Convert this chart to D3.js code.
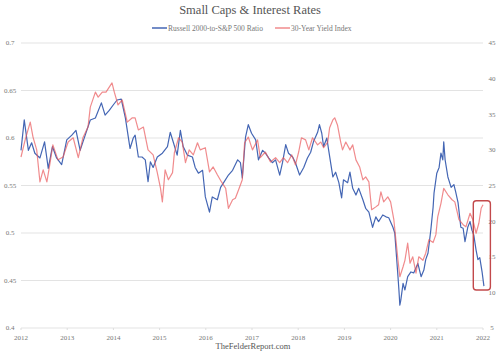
<!DOCTYPE html>
<html><head><meta charset="utf-8">
<script src="https://cdn.jsdelivr.net/npm/d3@7"></script>
<style>
html,body{margin:0;padding:0;background:#fff;}
svg{display:block;font-family:"Liberation Serif","DejaVu Serif",serif;}
</style></head>
<body><svg id="chart" width="500" height="357"></svg>
<script>
const title = "Small Caps & Interest Rates";
const seriesNames = ["Russell 2000-to-S&P 500 Ratio", "30-Year Yield Index"];
const footer = "TheFelderReport.com";
const xTicks = [2012,2013,2014,2015,2016,2017,2018,2019,2020,2021,2022];
const leftTicks = [0.4,0.45,0.5,0.55,0.6,0.65,0.7];
const rightTicks = [5,10,15,20,25,30,35,40,45];

const ratioDates = [2012.00,2012.07,2012.16,2012.23,2012.30,2012.41,2012.51,2012.59,2012.68,2012.77,2012.88,2012.99,
2013.10,2013.19,2013.28,2013.39,2013.50,2013.61,2013.74,2013.82,2013.91,2014.00,2014.08,2014.17,2014.26,2014.36,2014.43,2014.47,
2014.54,2014.62,2014.69,2014.75,2014.80,2014.86,2014.95,2015.06,2015.17,2015.23,2015.30,2015.38,2015.45,2015.51,2015.60,2015.71,
2015.77,2015.84,2015.93,2015.99,2016.08,2016.14,2016.25,2016.32,2016.40,2016.49,2016.58,2016.69,2016.75,2016.79,2016.86,2016.92,
2016.99,2017.08,2017.14,2017.23,2017.29,2017.36,2017.44,2017.51,2017.60,2017.66,2017.73,2017.79,2017.88,2017.94,2018.03,2018.12,
2018.20,2018.27,2018.33,2018.42,2018.46,2018.51,2018.55,2018.62,2018.66,2018.75,2018.81,2018.88,2018.94,2018.98,2019.07,2019.12,
2019.18,2019.25,2019.31,2019.40,2019.46,2019.53,2019.61,2019.68,2019.74,2019.83,2019.90,2019.96,2020.05,2020.09,2020.16,2020.18,
2020.20,2020.22,2020.27,2020.31,2020.37,2020.44,2020.50,2020.59,2020.66,2020.72,2020.76,2020.81,2020.87,2020.92,2020.94,2021.00,
2021.05,2021.09,2021.13,2021.15,2021.18,2021.24,2021.31,2021.37,2021.41,2021.46,2021.52,2021.57,2021.61,2021.67,2021.72,2021.76,
2021.80,2021.85,2021.89,2021.93,2021.98,2022.02];
const ratioValues = [0.587,0.619,0.587,0.595,0.584,0.579,0.596,0.568,0.591,0.579,0.572,0.598,
0.603,0.608,0.587,0.603,0.619,0.621,0.637,0.624,0.629,0.635,0.640,0.641,0.621,0.589,0.600,0.603,
0.580,0.580,0.577,0.554,0.575,0.569,0.580,0.584,0.591,0.606,0.595,0.582,0.608,0.591,0.582,0.580,
0.569,0.563,0.566,0.538,0.522,0.538,0.535,0.548,0.554,0.561,0.566,0.577,0.574,0.558,0.601,0.614,
0.605,0.598,0.577,0.587,0.584,0.579,0.574,0.577,0.561,0.574,0.593,0.584,0.580,0.574,0.561,0.569,
0.579,0.585,0.596,0.606,0.614,0.605,0.591,0.600,0.587,0.559,0.564,0.553,0.537,0.556,0.553,0.564,
0.547,0.540,0.547,0.535,0.526,0.522,0.506,0.517,0.512,0.519,0.517,0.516,0.506,0.500,0.454,0.440,
0.424,0.429,0.447,0.440,0.454,0.459,0.458,0.468,0.454,0.461,0.472,0.479,0.503,0.527,0.542,0.563,
0.569,0.584,0.577,0.596,0.577,0.559,0.548,0.551,0.543,0.532,0.506,0.505,0.491,0.506,0.512,0.503,
0.498,0.482,0.472,0.474,0.459,0.444];

const yieldDates = [2012.00,2012.09,2012.20,2012.26,2012.34,2012.41,2012.48,2012.56,2012.63,2012.69,2012.80,2012.91,
2013.02,2013.13,2013.24,2013.34,2013.45,2013.50,2013.61,2013.67,2013.76,2013.84,2013.97,2014.02,2014.10,2014.19,2014.30,
2014.41,2014.47,2014.54,2014.65,2014.75,2014.86,2014.95,2015.02,2015.06,2015.12,2015.19,2015.28,2015.32,2015.41,2015.49,
2015.56,2015.64,2015.73,2015.82,2015.88,2015.99,2016.08,2016.16,2016.25,2016.34,2016.43,2016.49,2016.58,2016.64,2016.71,
2016.79,2016.84,2016.92,2017.01,2017.12,2017.18,2017.29,2017.40,2017.51,2017.60,2017.68,2017.77,2017.86,2017.94,2018.01,
2018.07,2018.16,2018.23,2018.31,2018.42,2018.49,2018.55,2018.64,2018.68,2018.75,2018.79,2018.85,2018.92,2018.96,2019.03,
2019.12,2019.18,2019.25,2019.33,2019.40,2019.46,2019.53,2019.59,2019.68,2019.74,2019.79,2019.85,2019.94,2020.00,2020.07,
2020.13,2020.16,2020.20,2020.27,2020.31,2020.37,2020.42,2020.48,2020.55,2020.61,2020.70,2020.76,2020.83,2020.92,2020.98,
2021.02,2021.09,2021.15,2021.24,2021.33,2021.39,2021.48,2021.57,2021.63,2021.72,2021.78,2021.85,2021.91,2021.96,2022.00];
const yieldValues = [29.0,31.4,33.9,31.8,30.0,25.5,27.2,25.5,28.2,30.7,28.6,29.0,
31.1,31.7,28.9,31.7,33.2,36.0,38.1,37.4,38.1,38.1,39.4,38.1,36.3,37.0,33.9,
34.5,34.5,32.8,33.2,30.0,29.3,26.8,24.6,22.7,27.2,25.8,26.8,29.6,31.7,31.1,
28.2,30.0,29.3,31.0,30.0,30.3,26.9,27.6,26.5,25.5,24.6,21.8,23.0,23.2,24.4,
25.8,31.0,31.8,30.0,31.4,28.9,29.7,28.3,28.9,28.2,28.9,28.2,29.3,27.9,29.7,
31.7,31.4,30.0,31.7,30.7,31.1,30.3,31.1,33.1,34.2,34.5,33.5,31.1,30.0,31.1,
30.0,30.7,28.6,27.6,25.8,26.2,25.5,21.6,22.0,22.3,24.1,22.7,23.4,22.7,20.2,
16.4,14.5,12.2,13.6,14.5,16.9,14.1,15.0,12.7,15.0,14.5,15.5,17.4,17.0,18.1,
20.6,22.5,24.6,23.7,23.0,22.7,20.2,19.5,19.2,21.1,20.2,18.3,19.7,21.8,22.3];

// highlighted window at the end of the series (in data units: years / left-axis ratio)
const boxRange = {x0: 2021.79, x1: 2022.16, yTop: 0.534, yBottom: 0.440};

const svg = d3.select("#chart");
const m = {left:21, right:17, top:43, bottom:29};
const W = 500, H = 357;
const x = d3.scaleLinear().domain([2012, 2022]).range([m.left, W - m.right]);
const yL = d3.scaleLinear().domain([0.4, 0.7]).range([H - m.bottom, m.top]);
const yR = d3.scaleLinear().domain([5, 45]).range([H - m.bottom, m.top]);

const textCol = "#777";
svg.append("g").selectAll("line").data(leftTicks).join("line")
  .attr("x1", x(2012)).attr("x2", x(2022))
  .attr("y1", d => yL(d)).attr("y2", d => yL(d))
  .attr("stroke", "#e3e3e3").attr("stroke-width", 1);

svg.append("g").selectAll("text").data(leftTicks).join("text")
  .attr("x", 10).attr("y", d => yL(d)).attr("dy", "0.35em")
  .attr("text-anchor", "middle").attr("font-size", 7).attr("fill", textCol)
  .text(d => d3.format("")(d));
svg.append("g").selectAll("text").data(rightTicks).join("text")
  .attr("x", 492).attr("y", d => yR(d)).attr("dy", "0.35em")
  .attr("text-anchor", "middle").attr("font-size", 7).attr("fill", textCol)
  .text(d => d);
const xAxis = svg.append("g");
xAxis.selectAll("line").data(xTicks).join("line")
  .attr("x1", d => x(d)).attr("x2", d => x(d))
  .attr("y1", yL(0.4)).attr("y2", yL(0.4) + 2)
  .attr("stroke", "#ddd");
xAxis.selectAll("text").data(xTicks).join("text")
  .attr("x", d => x(d)).attr("y", yL(0.4) + 12)
  .attr("text-anchor", "middle").attr("font-size", 7).attr("fill", textCol)
  .text(d => d);

const blue = "#4466b4", red = "#ea5a5d";
const ratio = ratioDates.map((d, i) => [d, ratioValues[i]]);
const yld = yieldDates.map((d, i) => [d, yieldValues[i]]);
svg.append("path").datum(ratio)
  .attr("d", d3.line().x(d => x(d[0])).y(d => yL(d[1])))
  .attr("fill", "none").attr("stroke", blue).attr("stroke-width", 1.2).attr("stroke-linejoin", "round");
svg.append("path").datum(yld)
  .attr("d", d3.line().x(d => x(d[0])).y(d => yR(d[1])))
  .attr("fill", "none").attr("stroke", red).attr("stroke-opacity", 0.7).attr("stroke-width", 1.2).attr("stroke-linejoin", "round");

svg.append("rect")
  .attr("x", x(boxRange.x0)).attr("y", yL(boxRange.yTop))
  .attr("width", x(boxRange.x1) - x(boxRange.x0))
  .attr("height", yL(boxRange.yBottom) - yL(boxRange.yTop))
  .attr("rx", 3).attr("fill", "none").attr("stroke", "#c2494b").attr("stroke-width", 1.4);

svg.append("text").attr("x", 250).attr("y", 14).attr("text-anchor", "middle")
  .attr("font-size", 12.5).attr("fill", "#555").text(title);

const leg = svg.append("g");
const legItems = [{name: seriesNames[0], col: blue, x0: 152}, {name: seriesNames[1], col: red, x0: 275}];
legItems.forEach(it => {
  leg.append("line").attr("x1", it.x0).attr("x2", it.x0 + 15).attr("y1", 28).attr("y2", 28)
    .attr("stroke", it.col).attr("stroke-width", 1.5).attr("stroke-opacity", it.col === red ? 0.7 : 1);
  leg.append("text").attr("x", it.x0 + 16).attr("y", 28).attr("dy", "0.35em")
    .attr("font-size", 7.5).attr("fill", textCol).text(it.name);
});

svg.append("text").attr("x", 253).attr("y", 349).attr("text-anchor", "middle")
  .attr("font-size", 8.5).attr("fill", "#555").text(footer);
</script></body></html>
